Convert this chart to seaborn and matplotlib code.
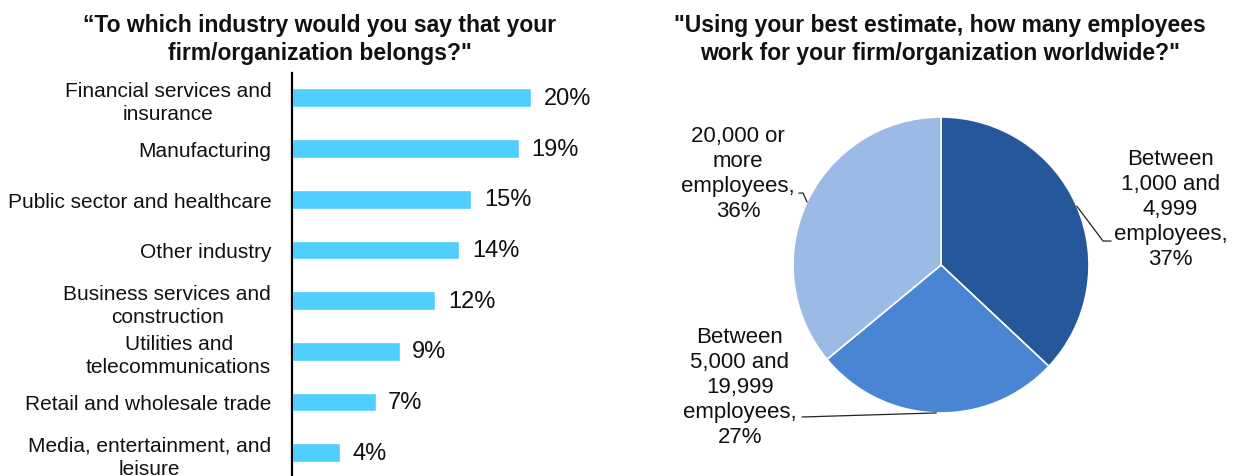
import numpy as np
import matplotlib
matplotlib.use("Agg")
import matplotlib.pyplot as plt
import seaborn as sns

# ---- data ----
industries = [
    "Financial services and\ninsurance",
    "Manufacturing",
    "Public sector and healthcare",
    "Other industry",
    "Business services and\nconstruction",
    "Utilities and\ntelecommunications",
    "Retail and wholesale trade",
    "Media, entertainment, and\nleisure",
]
industry_pct = [20, 19, 15, 14, 12, 9, 7, 4]

size_labels = [
    "Between\n1,000 and\n4,999\nemployees,\n37%",
    "Between\n5,000 and\n19,999\nemployees,\n27%",
    "20,000 or\nmore\nemployees,\n36%",
]
size_pct = [37, 27, 36]

title_left = "\u201cTo which industry would you say that your\nfirm/organization belongs?\""
title_right = "\"Using your best estimate, how many employees\nwork for your firm/organization worldwide?\""

# ---- style ----
sns.set_theme(style="white")
plt.rcParams["font.family"] = ["Liberation Sans", "DejaVu Sans"]

bar_color = "#50CEFF"
pie_colors = ["#27579B", "#4A85D4", "#9BBAE5"]

W, H = 1239, 477
fig = plt.figure(figsize=(W / 100, H / 100), dpi=100)

# ---- bar chart ----
ax = fig.add_axes([292 / W, 0, 330 / W, 403 / H])
sns.barplot(x=industry_pct, y=industries, orient="h", color=bar_color,
            width=0.37, saturation=1, ax=ax)
ax.set_xlim(0, 330 / 11.95)
ax.set_ylim(7.46, -0.49)
ax.set_xlabel("")
ax.set_ylabel("")
ax.set_xticks([])
for s in ["top", "right", "bottom"]:
    ax.spines[s].set_visible(False)
ax.spines["left"].set_color("black")
ax.spines["left"].set_linewidth(1.6)
ax.tick_params(axis="y", length=0, pad=15, labelsize=15, labelcolor="#111111")
for t in ax.get_yticklabels():
    t.set_multialignment("center")
    t.set_linespacing(1.26)
ax.bar_label(ax.containers[0], labels=[f"{v}%" for v in industry_pct],
             padding=9, fontsize=17, color="#111111")

fig.text(320 / W, 1 - 39.5 / H, title_left, ha="center", va="center",
         fontsize=16.5, fontweight="bold", color="#111111", linespacing=1.28)

# ---- pie chart ----
R = 148.0
cx, cy = 941, 266
aw, ah = 590, 440
pax = fig.add_axes([(cx - aw / 2) / W, (H - cy - ah / 2) / H, aw / W, ah / H])
wedges, _ = pax.pie(size_pct, colors=pie_colors, startangle=90, counterclock=False,
                    wedgeprops=dict(edgecolor="white", linewidth=1.2))
pax.set_xlim(-aw / 2 / R, aw / 2 / R)
pax.set_ylim(-ah / 2 / R, ah / 2 / R)
pax.set_axis_off()

# label layout (in pie radius units)
label_pos = [(1.55, 0.38), (-1.36, -0.82), (-1.37, 0.62)]
leader_mid = [(1.095, 0.162), (None, None), (-0.932, 0.486)]
leader_end = [(1.149, 0.162), (-0.939, -1.027), (-0.96, 0.486)]

for w, lab, lp, lm, le in zip(wedges, size_labels, label_pos, leader_mid, leader_end):
    theta = np.deg2rad((w.theta1 + w.theta2) / 2)
    sx, sy = np.cos(theta), np.sin(theta)
    pax.text(lp[0], lp[1], lab, ha="center", va="center", fontsize=16,
             color="#111111", linespacing=1.25)
    xs = [sx]
    ys = [sy]
    if lm[0] is not None:
        xs.append(lm[0]); ys.append(lm[1])
    xs.append(le[0]); ys.append(le[1])
    pax.plot(xs, ys, color="#222222", linewidth=0.9, clip_on=False)

fig.text(940 / W, 1 - 39.5 / H, title_right, ha="center", va="center",
         fontsize=16.5, fontweight="bold", color="#111111", linespacing=1.28)

fig.savefig("out.png", dpi=100, facecolor="white")
